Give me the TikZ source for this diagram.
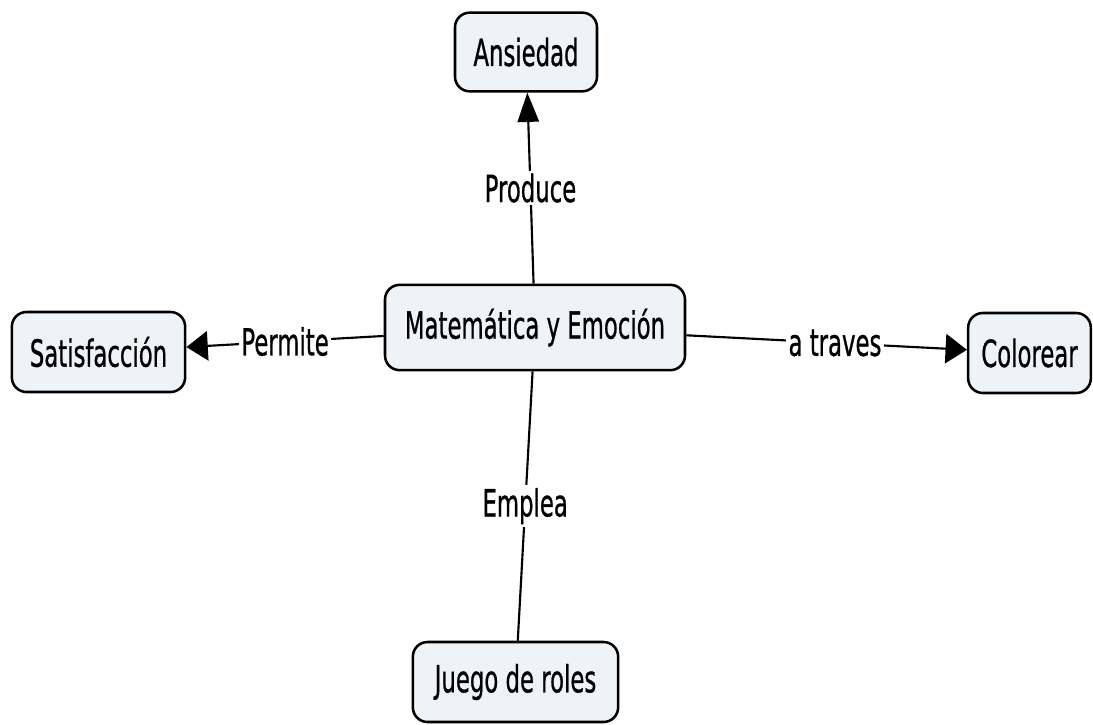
\documentclass[tikz,border=0pt]{standalone}
\usepackage{fontspec}
\setmainfont{DejaVu Sans}
\newfontfamily\mapfont[FakeBold=1]{DejaVu Sans}
\usetikzlibrary{arrows.meta}
\definecolor{boxfill}{HTML}{EDF3F6}
% narrow lettering used throughout the map
\newcommand{\cmtext}[1]{\scalebox{0.61}[1]{#1}}
\begin{document}
\begin{tikzpicture}[x=0.75pt,y=-0.75pt,
  concept/.style={draw=black, line width=1.9pt, rounded corners=11pt,
    fill=boxfill, inner sep=0pt, font=\mapfont\fontsize{28pt}{32pt}\selectfont},
  link/.style={line width=1.6pt},
  vhead/.style={-{Triangle[length=22pt,width=16pt]}},
  hhead/.style={-{Triangle[length=16pt,width=22pt]}},
  linklabel/.style={fill=white, inner sep=2pt, font=\mapfont\fontsize{28pt}{32pt}\selectfont}]
\useasboundingbox (0,0) rectangle (1093,725);

% concepts
\node[concept, minimum width=225pt, minimum height=64pt] (m)   at (535,327.5) {\cmtext{Matemática y Emoción}};
\node[concept, minimum width=106.5pt, minimum height=59pt] (ans) at (526,52)   {\cmtext{Ansiedad}};
\node[concept, minimum width=130pt, minimum height=60pt] (sat) at (98.5,352)  {\cmtext{Satisfacción}};
\node[concept, minimum width=92pt, minimum height=60pt] (col) at (1029.5,353) {\cmtext{Colorear}};
\node[concept, minimum width=154pt, minimum height=60pt] (jue) at (515.5,682) {\cmtext{Juego de roles}};

% links
\draw[link, vhead] (m) -- node[linklabel, pos=.5] {\cmtext{Produce}} (ans);
\draw[link, hhead] (m) -- node[linklabel, pos=.5] {\cmtext{Permite}} (sat);
\draw[link, hhead] (m) -- node[linklabel, pos=.53] {\cmtext{a traves}} (col);
\draw[link] (m) -- node[linklabel, pos=.5] {\cmtext{Emplea}} (jue);
\end{tikzpicture}
\end{document}
